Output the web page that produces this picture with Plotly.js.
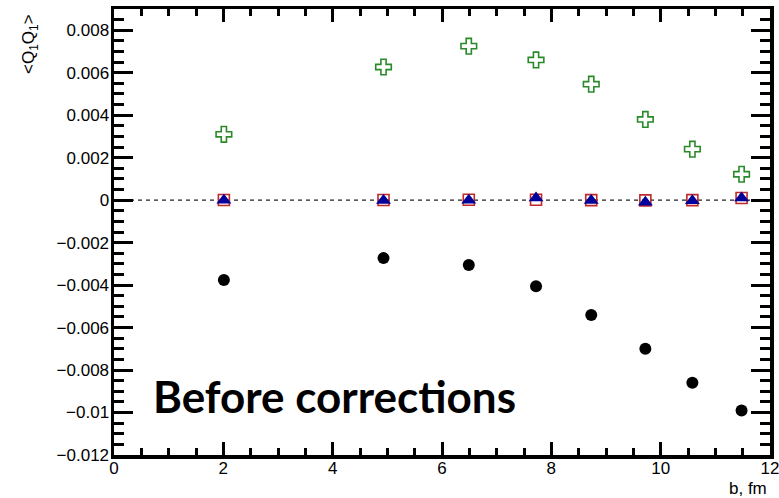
<!DOCTYPE html>
<html>
<head>
<meta charset="utf-8">
<script src="https://cdn.plot.ly/plotly-3.0.1.min.js"></script>
<style>html,body{margin:0;padding:0;background:#fff}#chart{width:779px;height:498px}</style>
</head>
<body>
<div id="chart"></div>
<script>
// impact parameter b (fm)
var bValues = [2.01, 4.93, 6.49, 7.72, 8.73, 9.72, 10.58, 11.48];
// series
var crossSeries = [0.0031, 0.00627, 0.00725, 0.0066, 0.00546, 0.0038, 0.0024, 0.00122];
var circleSeries = [-0.00376, -0.00273, -0.00305, -0.00405, -0.00541, -0.007, -0.0086, -0.0099];
var squareSeries = [0.00001, 0.00001, 0.00002, 0.00002, 0.0, -0.00001, 0.0, 0.0001];
var triangleSeries = [0.0, -0.00002, 0.0, 0.0001, -0.00002, -0.0001, -0.00003, 0.0001];
// tick labels
var yTickVals = [-0.012, -0.01, -0.008, -0.006, -0.004, -0.002, 0, 0.002, 0.004, 0.006, 0.008];
var yTickText = ['\u22120.012', '\u22120.01', '\u22120.008', '\u22120.006', '\u22120.004', '\u22120.002', '0', '0.002', '0.004', '0.006', '0.008'];
var xTickVals = [0, 2, 4, 6, 8, 10, 12];
var xTickText = ['0', '2', '4', '6', '8', '10', '12'];

var tickFont = {family: 'Liberation Sans, Arial, sans-serif', size: 17, color: '#000'};

var traces = [
  {x: bValues, y: crossSeries, mode: 'markers', type: 'scatter',
   marker: {symbol: 'cross-open', size: 13, color: '#2a8a2a', line: {width: 1.6, color: '#2a8a2a'}}},
  {x: bValues, y: circleSeries, mode: 'markers', type: 'scatter',
   marker: {symbol: 'circle', size: 12, color: '#000'}},
  {x: bValues, y: squareSeries, mode: 'markers', type: 'scatter',
   marker: {symbol: 'square-open', size: 11, color: '#c0282a', line: {width: 1.6, color: '#c0282a'}}},
  {x: bValues, y: triangleSeries, mode: 'markers', type: 'scatter',
   marker: {symbol: 'triangle-up', size: 13, color: '#00009a', line: {width: 0}}}
];

var layout = {
  width: 779, height: 498,
  margin: {l: 114, r: 9, t: 9, b: 43},
  paper_bgcolor: '#fff', plot_bgcolor: '#fff',
  showlegend: false,
  xaxis: {
    range: [0, 12], showgrid: false, zeroline: false,
    showline: true, linewidth: 3.5, linecolor: '#000', mirror: 'allticks',
    ticks: 'inside', ticklen: 13, tickwidth: 3, tickcolor: '#000',
    tickvals: xTickVals, ticktext: xTickText, tickfont: tickFont,
    ticklabeloverflow: 'allow', ticklabelstandoff: -5,
    minor: {dtick: 0.5, ticks: 'inside', ticklen: 7, tickwidth: 3, tickcolor: '#000', showgrid: false}
  },
  yaxis: {
    range: [-0.012, 0.009], showgrid: false, zeroline: false,
    showline: true, linewidth: 3.5, linecolor: '#000', mirror: 'allticks',
    ticks: 'inside', ticklen: 19, tickwidth: 3, tickcolor: '#000',
    tickvals: yTickVals, ticktext: yTickText, tickfont: tickFont,
    ticklabelstandoff: -2,
    minor: {dtick: 0.0005, tick0: 0, ticks: 'inside', ticklen: 10, tickwidth: 3, tickcolor: '#000', showgrid: false}
  },
  shapes: [
    {type: 'line', xref: 'paper', yref: 'y', x0: 0, x1: 1, y0: 0, y1: 0,
     line: {color: '#222', width: 1.2, dash: '4px,4px'}, layer: 'below'}
  ],
  annotations: [
    {text: '<b>Before corrections</b>', xref: 'paper', yref: 'paper',
     x: (151 - 114) / 656, y: (455 - 396) / 446, xanchor: 'left', yanchor: 'middle',
     showarrow: false, font: {family: 'Lato, Noto Sans, sans-serif', size: 44, color: '#000'}},
    {text: 'b, fm', xref: 'paper', yref: 'paper', x: (769 - 114) / 656, y: (455 - 488) / 446,
     xanchor: 'right', yanchor: 'middle', showarrow: false, font: tickFont},
    {text: '<Q<sub>1</sub>Q<sub>1</sub>>', xref: 'paper', yref: 'paper', textangle: -90,
     x: (30 - 114) / 656, y: (455 - 12) / 446, xanchor: 'center', yanchor: 'top',
     showarrow: false, font: tickFont}
  ]
};

Plotly.newPlot('chart', traces, layout, {displayModeBar: false, staticPlot: true});
</script>
</body>
</html>
